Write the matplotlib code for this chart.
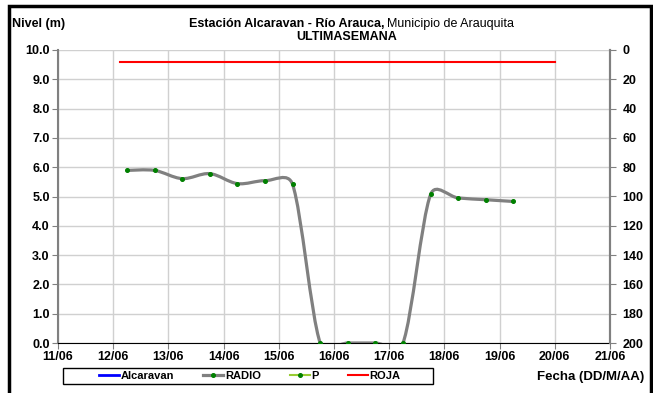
import matplotlib
matplotlib.use("Agg")
import matplotlib.pyplot as plt
import matplotlib.dates as mdates
import numpy as np
import pandas as pd
from matplotlib.path import Path
from matplotlib.patches import PathPatch, Rectangle
from matplotlib.lines import Line2D

plt.rcParams['font.family'] = ['Liberation Sans', 'DejaVu Sans']

# RADIO series (nivel en m), every 12 h
radio_times = pd.to_datetime([
    "2013-06-12 06:00", "2013-06-12 18:00", "2013-06-13 06:00", "2013-06-13 18:00",
    "2013-06-14 06:00", "2013-06-14 18:00", "2013-06-15 06:00", "2013-06-15 18:00",
    "2013-06-16 06:00", "2013-06-16 18:00", "2013-06-17 06:00", "2013-06-17 18:00",
    "2013-06-18 06:00", "2013-06-18 18:00", "2013-06-19 06:00",
])
radio_values = [5.89, 5.89, 5.61, 5.78, 5.44, 5.54, 5.41, 0.0,
                0.0, 0.0, 0.0, 5.07, 4.95, 4.89, 4.83]

# ROJA alert level
roja_times = pd.to_datetime(["2013-06-12 03:00", "2013-06-20 00:00"])
roja_values = [9.6, 9.6]

# series with no data in this week
alcaravan_times, alcaravan_values = [], []
p_times, p_values = [], []

x_start = pd.Timestamp("2013-06-11")
x_end = pd.Timestamp("2013-06-21")
day_ticks = pd.date_range(x_start, x_end, freq="D")

W, H = 653, 393
fig = plt.figure(figsize=(W / 100, H / 100), dpi=100)
ax = fig.add_axes([58 / W, 1 - 343 / H, (610 - 58) / W, (343 - 50) / H])

ax.set_xlim(mdates.date2num(x_start), mdates.date2num(x_end))
ax.set_ylim(0, 10)
ax.set_yticks(np.arange(0, 10.01, 1.0))
ax.yaxis.set_major_formatter(matplotlib.ticker.FormatStrFormatter("%.1f"))
ax.set_xticks(mdates.date2num(day_ticks))
ax.xaxis.set_major_formatter(mdates.DateFormatter("%d/%m"))
ax.grid(True, color="#d0d0d0", lw=1.0)
ax.set_axisbelow(True)
ax.spines["top"].set_visible(False)
ax.spines["left"].set_color("#808080")
ax.spines["left"].set_linewidth(1.5)
ax.spines["right"].set_color("#808080")
ax.spines["right"].set_linewidth(1.5)
ax.spines["bottom"].set_color("black")
ax.tick_params(axis="both", labelsize=9, length=4, color="#808080", pad=2)
for lab in ax.get_xticklabels() + ax.get_yticklabels():
    lab.set_fontweight("bold")

ax2 = ax.twinx()
ax2.set_ylim(200, 0)
ax2.set_yticks(np.arange(0, 201, 20))
ax2.tick_params(axis="y", labelsize=9, length=4, color="#808080", pad=5)
for lab in ax2.get_yticklabels():
    lab.set_fontweight("bold")
for s in ["top", "left", "bottom"]:
    ax2.spines[s].set_visible(False)
ax2.spines["right"].set_color("#808080")
ax2.spines["right"].set_linewidth(1.5)


def smooth_path(ax, xs, ys, f=1 / 6):
    # spreadsheet style smoothed line: catmull-rom beziers in screen space,
    # control arm never longer than half the segment
    pts = ax.transData.transform(np.column_stack([xs, ys]))
    n = len(pts)
    verts = [pts[0]]
    codes = [Path.MOVETO]
    for i in range(n - 1):
        p0 = pts[i - 1] if i > 0 else pts[i]
        p1 = pts[i]
        p2 = pts[i + 1]
        p3 = pts[i + 2] if i + 2 < n else pts[i + 1]
        half = np.hypot(*(p2 - p1)) / 2
        a1 = (p2 - p0) * f
        a2 = (p3 - p1) * f
        l1 = np.hypot(*a1)
        l2 = np.hypot(*a2)
        if l1 > half:
            a1 = a1 * half / l1
        if l2 > half:
            a2 = a2 * half / l2
        verts += [p1 + a1, p2 - a2, p2]
        codes += [Path.CURVE4] * 3
    verts = ax.transData.inverted().transform(np.array(verts))
    return Path(verts, codes)


radio_x = mdates.date2num(radio_times)
path = smooth_path(ax, radio_x, radio_values)
ax.add_patch(PathPatch(path, fill=False, edgecolor="#808080", lw=2.3, zorder=3))
ax.plot(radio_x, radio_values, ls="none", marker="o", ms=2.6, color="#008000", zorder=4)

ax.plot(mdates.date2num(roja_times), roja_values, color="red", lw=1.5, zorder=3)
ax.plot(alcaravan_times, alcaravan_values, color="#0000ff", lw=2)
ax2.plot(p_times, p_values, color="#99cc33", lw=1.5, marker="o", ms=2.6,
         mfc="#008000", mec="#008000")

handles = [
    Line2D([], [], color="#0000ff", lw=2),
    Line2D([], [], color="#808080", lw=2.3, marker="o", ms=2.6, mfc="#008000", mec="#008000"),
    Line2D([], [], color="#99cc33", lw=1.5, marker="o", ms=2.6, mfc="#008000", mec="#008000"),
    Line2D([], [], color="red", lw=1.5),
]
labels = ["Alcaravan", "RADIO", "P", "ROJA"]
leg = fig.legend(handles, labels, ncol=4, loc="center",
                 bbox_to_anchor=(250 / W, 1 - 376 / H),
                 frameon=False, prop={"weight": "bold", "size": 8},
                 handlelength=1.8, handletextpad=0.15, columnspacing=2.6,
                 borderpad=0)
# legend box
fig.patches.append(Rectangle((63 / W, 1 - 384 / H), 370 / W, 16 / H,
                             transform=fig.transFigure, fill=False,
                             edgecolor="black", lw=1.0))

# titles
fig.text(12 / W, 1 - 24 / H, "Nivel (m)", fontsize=9, fontweight="bold", va="center")
fig.text(384 / W, 1 - 24 / H, "Estación Alcaravan - Río Arauca,", fontsize=9,
         fontweight="bold", ha="right", va="center")
fig.text(387 / W, 1 - 24 / H, "Municipio de Arauquita", fontsize=9, ha="left", va="center")
fig.text(347 / W, 1 - 37 / H, "ULTIMASEMANA", fontsize=9, fontweight="bold",
         ha="center", va="center")
fig.text(644 / W, 1 - 377 / H, "Fecha (DD/M/AA)", fontsize=9.5, fontweight="bold",
         ha="right", va="center")

# outer frame of the chart
fig.patches.append(Rectangle((9 / W, -0.1), (651 - 9) / W, 1.1 - 6 / H,
                             transform=fig.transFigure, fill=False,
                             edgecolor="black", lw=2.5, clip_on=False))

fig.savefig("out.png", dpi=100)
